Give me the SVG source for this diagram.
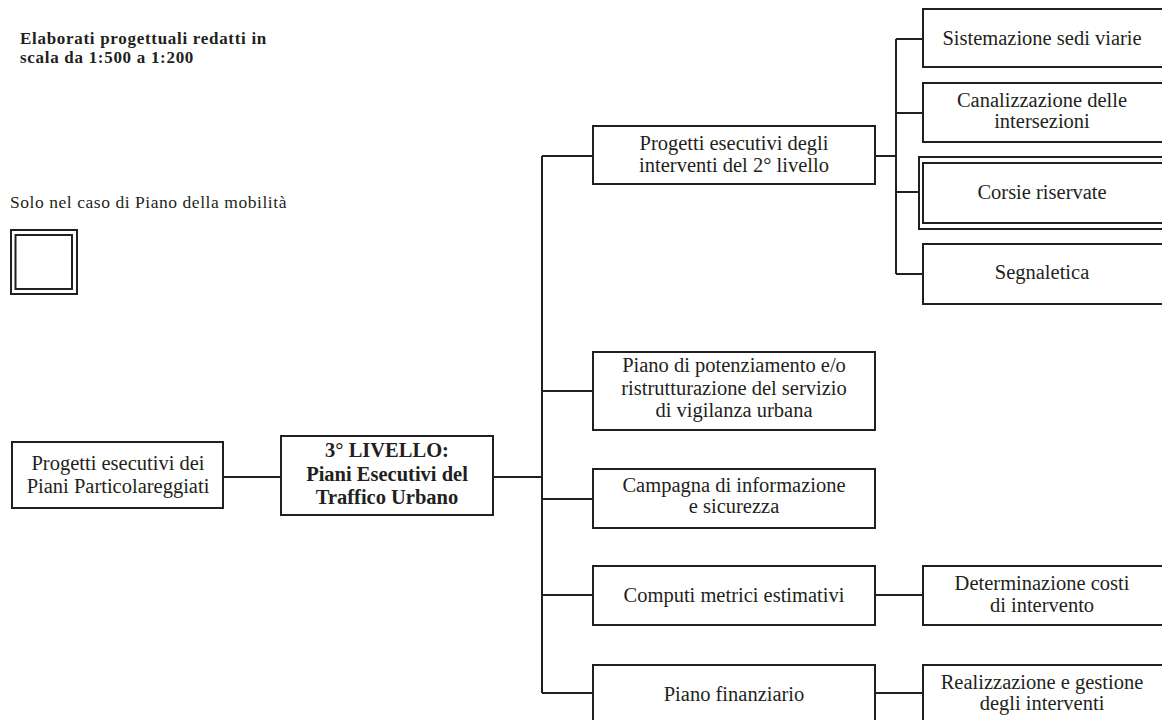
<svg xmlns="http://www.w3.org/2000/svg" width="1162" height="720" viewBox="0 0 1162 720">
<style>
.b{fill:#fff;stroke:#231f20;stroke-width:2}
.c{fill:none;stroke:#231f20;stroke-width:2}
text{font-family:"Liberation Serif","Times New Roman",serif;fill:#231f20;font-size:20.5px;text-anchor:middle}
.bold{font-weight:bold}
.l{text-anchor:start}
.t{font-size:17px;letter-spacing:0.7px}
.s{font-size:17.5px;letter-spacing:0.55px}
</style>
<rect width="1162" height="720" fill="#fff"/>
<g id="legend">
<text class="l bold t" x="20" y="44">Elaborati progettuali redatti in</text>
<text class="l bold t" x="20" y="63">scala da 1:500 a 1:200</text>
<text class="l s" x="10" y="208">Solo nel caso di Piano della mobilità</text>
<rect class="b" x="11" y="230" width="66" height="64"/>
<rect class="b" x="15.5" y="235" width="56.5" height="54"/>
</g>
<g id="connectors">
<path class="c" d="M223 477H281M493 477H542M542 156V693M542 156H593M542 391H593M542 499H593M542 595H593M542 693H593"/>
<path class="c" d="M875 156H896M896 39V274M896 39H923M896 113H923M896 192H919M896 274H923"/>
<path class="c" d="M875 595H923M875 693H923"/>
</g>
<g id="n-ppp">
<rect class="b" x="12" y="442" width="211" height="66"/>
<text x="118" y="470">Progetti esecutivi dei</text>
<text x="118" y="493">Piani Particolareggiati</text>
</g>
<g id="n-livello3">
<rect class="b" x="281" y="436" width="212" height="79"/>
<text class="bold" x="387" y="457">3° LIVELLO:</text>
<text class="bold" x="387" y="481">Piani Esecutivi del</text>
<text class="bold" x="387" y="504">Traffico Urbano</text>
</g>
<g id="n-progetti2">
<rect class="b" x="593" y="126" width="282" height="58"/>
<text x="734" y="150">Progetti esecutivi degli</text>
<text x="734" y="172">interventi del 2° livello</text>
</g>
<g id="n-sistemazione">
<rect class="b" x="923" y="9" width="250" height="58"/>
<text x="1042" y="45">Sistemazione sedi viarie</text>
</g>
<g id="n-canalizzazione">
<rect class="b" x="923" y="83" width="250" height="59"/>
<text x="1042" y="107">Canalizzazione delle</text>
<text x="1042" y="128">intersezioni</text>
</g>
<g id="n-corsie">
<rect class="b" x="919" y="157" width="254" height="72"/>
<rect class="b" x="923" y="163" width="250" height="60"/>
<text x="1042" y="199">Corsie riservate</text>
</g>
<g id="n-segnaletica">
<rect class="b" x="923" y="244" width="250" height="60"/>
<text x="1042" y="279">Segnaletica</text>
</g>
<g id="n-vigilanza">
<rect class="b" x="593" y="352" width="282" height="78"/>
<text x="734" y="372">Piano di potenziamento e/o</text>
<text x="734" y="395">ristrutturazione del servizio</text>
<text x="734" y="417">di vigilanza urbana</text>
</g>
<g id="n-campagna">
<rect class="b" x="593" y="469" width="282" height="59"/>
<text x="734" y="492">Campagna di informazione</text>
<text x="734" y="513">e sicurezza</text>
</g>
<g id="n-computi">
<rect class="b" x="593" y="566" width="282" height="59"/>
<text x="734" y="602">Computi metrici estimativi</text>
</g>
<g id="n-costi">
<rect class="b" x="923" y="566" width="250" height="59"/>
<text x="1042" y="590">Determinazione costi</text>
<text x="1042" y="612">di intervento</text>
</g>
<g id="n-finanziario">
<rect class="b" x="593" y="665" width="282" height="70"/>
<text x="734" y="701">Piano finanziario</text>
</g>
<g id="n-realizzazione">
<rect class="b" x="923" y="665" width="250" height="70"/>
<text x="1042" y="689">Realizzazione e gestione</text>
<text x="1042" y="710">degli interventi</text>
</g>
</svg>
